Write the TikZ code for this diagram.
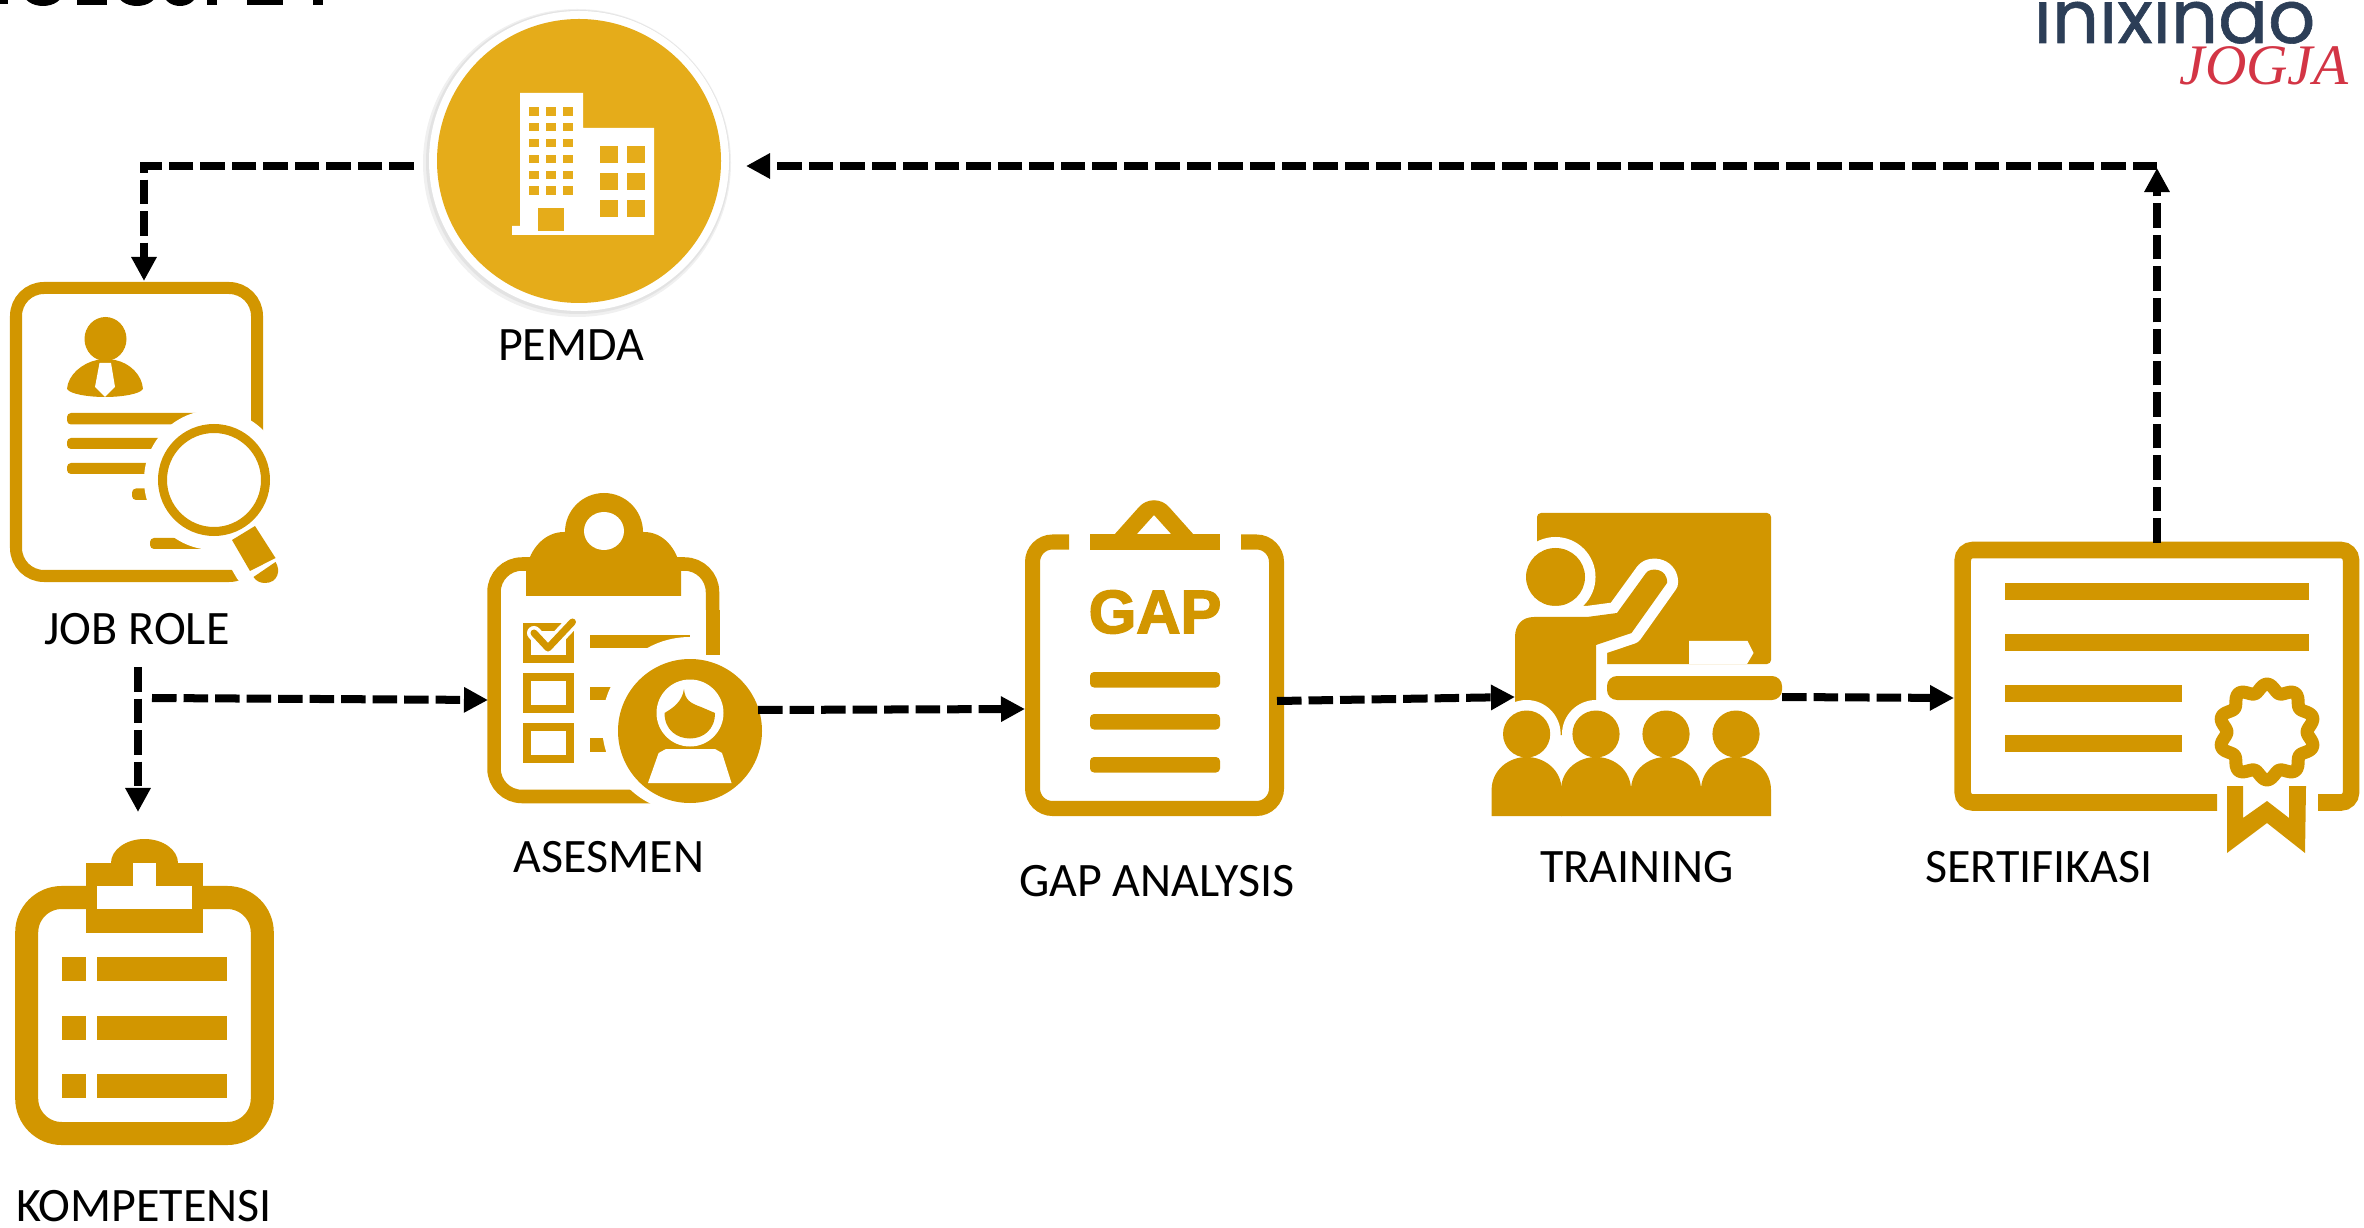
\documentclass[tikz,border=0pt]{standalone}
\usepackage{fontspec}
\setmainfont{Carlito}
\newfontfamily\gapfont[BoldFeatures={FakeBold=2.5}]{Liberation Sans}
\newfontfamily\logofont[FakeBold=0.8]{Poppins}
\newfontfamily\jogjafont{Liberation Serif}
\usetikzlibrary{arrows.meta}
\definecolor{gold}{HTML}{D29600}
\definecolor{sungold}{HTML}{E5AC1A}
\definecolor{logonavy}{HTML}{2C3E57}
\definecolor{logored}{HTML}{D33545}
\tikzset{
    flow/.style={draw=black,line width=0.08cm,dash pattern=on 0.245cm off 0.07cm,-{Triangle[width=0.24cm,length=0.24cm]}},
    caption/.style={anchor=base,inner sep=0pt,font=\fontsize{13.65}{15}\selectfont},
    bar/.style={fill=gold,rounded corners=0.04cm}
}
\begin{document}
\begin{tikzpicture}[x=0.01cm,y=-0.01cm]
    \useasboundingbox (0,0) rectangle (2364,1228);
    \clip (0,0) rectangle (2364,1228);

    % cut-off heading
    \fill (-4,0) rectangle (8,4);
    \fill (43,-8) ellipse [x radius=20,y radius=14];
    \fill (77,0) rectangle (107,5);
    \fill (137,-8) ellipse [x radius=20,y radius=14];
    \fill (180,-8) ellipse [x radius=17,y radius=14];
    \fill (207,0) rectangle (217,5);
    \fill (247,0) rectangle (283,5);
    \fill (313,0) rectangle (323,5);

    % logo
    \begin{scope}
        \clip (2025,1.5) rectangle (2330,60);
        \node[anchor=base west,inner sep=0pt,text=logonavy,font=\logofont\fontsize{21}{21}\selectfont] (logotext) at (2033,43) {inixindo};
    \end{scope}
    \node[anchor=base west,inner sep=0pt,text=logored,font=\jogjafont\itshape\fontsize{16.3}{16.3}\selectfont] (logojogja) at (2179,85) {JOGJA};

    % pemda
    \fill[black!6] (577,163) circle [radius=154];
    \fill[black!11] (578,162) circle [radius=152];
    \fill[white] (579,161) circle [radius=150];
    \fill[sungold] (579,161) circle [radius=142];
    \fill[white] (512,235) -- (512,226) -- (520,226) -- (520,93) -- (583,93) -- (583,128) -- (654,128) -- (654,235) -- cycle;
    \foreach \y in {107.5,123,139,155,171,186.5}
        \foreach \x in {529,546,563}
            \fill[sungold] (\x,\y) rectangle ++(10,8.5);
    \foreach \y in {146,173,200}
        \foreach \x in {600,627}
            \fill[sungold] (\x,\y) rectangle ++(18,17);
    \fill[sungold] (538,208) rectangle (564,231);
    \node[caption] (pemda) at (571,361) {PEMDA};

    % job role
    \draw[gold,line width=0.12cm,rounded corners=0.28cm] (16,288) rectangle (257,576);
    \fill[gold] (105.5,339) ellipse [x radius=21,y radius=22];
    \fill[gold] (67,389) .. controls (68,375) and (82,363) .. (97,360) -- (115,360) .. controls (130,363) and (142,375) .. (143,389) .. controls (140,394) and (122,397) .. (105,397) .. controls (88,397) and (70,394) .. (67,389) -- cycle;
    \fill[white] (99.5,363) -- (111,363) -- (115,387) -- (105,397) -- (95,387) -- cycle;
    \fill[bar] (67,413) rectangle (205,424.5);
    \fill[bar] (67,438) rectangle (180,449);
    \fill[bar] (67,463) rectangle (170,474);
    \fill[bar] (132,488.5) rectangle (170,500);
    \fill[bar] (150,538) rectangle (220,549);
    \fill[white] (214,480) circle [radius=70];
    \draw[white,line width=0.3cm,line join=round] (232,540) -- (255,526) -- (280,570) -- (265,583) -- (250,571) -- cycle;
    \draw[gold,line width=0.09cm] (214,480) circle [radius=51.5];
    \fill[gold] (232,540) -- (255,526) -- (275.5,558) -- (250,571) -- cycle;
    \fill[gold] (253.5,577) -- (275.5,562) .. controls (281,570) and (278,583) .. (265,583) .. controls (260,583) and (256,581) .. (253.5,577) -- cycle;
    \node[caption] (jobrole) at (137,645) {JOB ROLE};

    % kompetensi
    \draw[gold,line width=0.23cm,rounded corners=0.35cm] (26.7,897.5) rectangle (262.3,1133.5);
    \fill[gold] (144.5,863) ellipse [x radius=33.5,y radius=24];
    \fill[gold] (86,863) rectangle (203,933);
    \fill[white] (97,886) rectangle (192,909);
    \fill[white] (133,863) rectangle (156,886);
    \foreach \y in {957,1016,1074} {
        \fill[gold] (62,\y) rectangle ++(24,23.5);
        \fill[gold] (97,\y) rectangle ++(130,23.5);
    }
    \node[caption] (kompetensi) at (144,1221) {KOMPETENSI};

    % asesmen
    \draw[gold,line width=0.135cm,rounded corners=0.28cm] (712.5,610) -- (712.5,564) -- (494,564) -- (494,796.5) -- (680,796.5);
    \fill[gold] (604,532) circle [radius=39];
    \fill[gold] (526,596) -- (526,570) .. controls (530,548) and (545,532) .. (564,532) -- (644,532) .. controls (663,532) and (677,548) .. (681,570) -- (681,596) -- cycle;
    \fill[white] (604,531) ellipse [x radius=20,y radius=19];
    \foreach \y in {627,677,727}
        \draw[gold,line width=0.08cm] (527,\y) rectangle ++(43,32);
    \draw[white,line width=0.14cm,line cap=round,line join=round] (534,633) -- (548,648) -- (572.5,622);
    \draw[gold,line width=0.07cm,line cap=round,line join=round] (534,633) -- (548,648) -- (572.5,622);
    \fill[gold] (590,635) rectangle (690,648);
    \fill[gold] (590,687) rectangle (630,700);
    \fill[gold] (590,738) rectangle (630,752);
    \fill[white] (690,725) circle [radius=88];
    \fill[gold] (706,610) rectangle (719.5,655);
    \fill[gold] (690,731) circle [radius=72];
    \fill[white] (690,713) circle [radius=33.5];
    \fill[gold] (664.5,713) .. controls (673,708) and (682,702) .. (684,689) .. controls (685,700) and (690,703) .. (701,707) -- (715,713) .. controls (715,730) and (703,738.5) .. (690,738.5) .. controls (677,738.5) and (664.5,730) .. (664.5,713) -- cycle;
    \fill[white] (648,783) -- (731.5,783) -- (722,753) -- (715,749) -- (666,749) -- (658.6,753) -- cycle;
    \node[caption] (asesmen) at (609,872) {ASESMEN};

    % gap analysis
    \draw[gold,line width=0.15cm,rounded corners=0.2cm] (1069,542) -- (1032.5,542) -- (1032.5,808.5) -- (1276.5,808.5) -- (1276.5,542) -- (1241,542);
    \fill[gold] (1090,534) rectangle (1220,550);
    \fill[gold,even odd rule] (1114,535) -- (1139,507) .. controls (1147,498) and (1161,498) .. (1169,507) -- (1194,535) -- cycle (1136,535) -- (1154,515) -- (1172,535) -- cycle;
    \node[inner sep=0pt,text=gold,font=\gapfont\bfseries\fontsize{17.4}{18}\selectfont] (gaptext) at (1155,612) {GAP};
    \foreach \y in {672,714,757}
        \fill[bar] (1090,\y) rectangle ++(130,15.5);
    \node[caption] (gap) at (1157,896) {GAP ANALYSIS};

    % training
    \fill[gold,rounded corners=0.04cm] (1537,664) -- (1537,513) -- (1771,513) -- (1771,664) -- cycle;
    \fill[white] (1689,664) -- (1689,641) -- (1747.5,641) -- (1753.5,653) -- (1747,664) -- cycle;
    \fill[white] (1555.5,577) circle [radius=40];
    \fill[gold] (1555.5,577) ellipse [x radius=29.5,y radius=29];
    \draw[white,line width=0.22cm,line join=round] (1515,735) -- (1515,637) .. controls (1515,625) and (1522,617) .. (1534,617) -- (1587,617) -- (1617,613) -- (1646,573) .. controls (1650,567) and (1668,568) .. (1667,583) -- (1631.5,633) -- (1596,645) -- (1596,735) -- cycle;
    \fill[gold] (1515,735) -- (1515,637) .. controls (1515,625) and (1522,617) .. (1534,617) -- (1587,617) -- (1617,613) -- (1646,573) .. controls (1650,567) and (1668,568) .. (1667,583) -- (1631.5,633) -- (1596,645) -- (1596,735) -- cycle;
    \fill[gold,rounded corners=0.1cm] (1607,700) -- (1607,676) -- (1782,676) -- (1782,700) -- cycle;
    \fill[white] (1526.6,734) circle [radius=34];
    \fill[white] (1596,734) circle [radius=34];
    \foreach \cx in {1526.6,1596,1666,1736} {
        \fill[gold] (\cx,734) ellipse [x radius=23.6,y radius=23.5];
        \fill[gold] (\cx-35,816) -- (\cx-35,790) .. controls (\cx-35,770) and (\cx-18,757) .. (\cx,757) .. controls (\cx+18,757) and (\cx+35,770) .. (\cx+35,790) -- (\cx+35,816) -- cycle;
    }
    \node[caption] (training) at (1637,882) {TRAINING};

    % sertifikasi
    \draw[gold,line width=0.165cm,rounded corners=0.1cm] (2217,802.5) -- (1962.7,802.5) -- (1962.7,550) -- (2351,550) -- (2351,802.5) -- (2318,802.5);
    \foreach \y in {583,634}
        \fill[gold] (2004.5,\y) rectangle ++(304.5,17);
    \foreach \y in {685,735}
        \fill[gold] (2004.5,\y) rectangle ++(177.5,17);
    \draw[gold,line width=0.13cm,line join=round] plot[samples=121,domain=0:360] ({2267+(44-4*cos(10*\x))*cos(\x)},{732+(44-4*cos(10*\x))*sin(\x)}) -- cycle;
    \fill[gold] (2227,786) -- (2243,786) -- (2243,818) -- (2267,801) -- (2289,818) -- (2289,786) -- (2306,786) -- (2305,853) -- (2267,823) -- (2227,853) -- cycle;
    \node[caption] (sertifikasi) at (2039,882) {SERTIFIKASI};

    % connector ends
    \coordinate (pemdaOut) at (414,166);
    \coordinate (pemdaIn) at (746,166);
    \coordinate (jobroleIn) at (144,281);
    \coordinate (jobroleDown) at (138,667);
    \coordinate (jobroleRight) at (152,698);
    \coordinate (kompetensiIn) at (138,812);
    \coordinate (asesmenIn) at (488,700);
    \coordinate (asesmenOut) at (758,710);
    \coordinate (gapIn) at (1025,709);
    \coordinate (gapOut) at (1277,701);
    \coordinate (trainingIn) at (1515,697);
    \coordinate (trainingOut) at (1782,697);
    \coordinate (sertifikasiIn) at (1954,698);
    \coordinate (sertifikasiOut) at (2157,543);
    \coordinate (sertifikasiUp) at (2157,168);
    \coordinate (returnStart) at (2157,166);

    \draw[flow] (pemdaOut) -| (jobroleIn);
    \draw[flow] (jobroleDown) -- (kompetensiIn);
    \draw[flow] (jobroleRight) -- (asesmenIn);
    \draw[flow] (asesmenOut) -- (gapIn);
    \draw[flow] (gapOut) -- (trainingIn);
    \draw[flow] (trainingOut) -- (sertifikasiIn);
    \draw[flow] (sertifikasiOut) -- (sertifikasiUp);
    \draw[flow] (returnStart) -- (pemdaIn);
\end{tikzpicture}
\end{document}
